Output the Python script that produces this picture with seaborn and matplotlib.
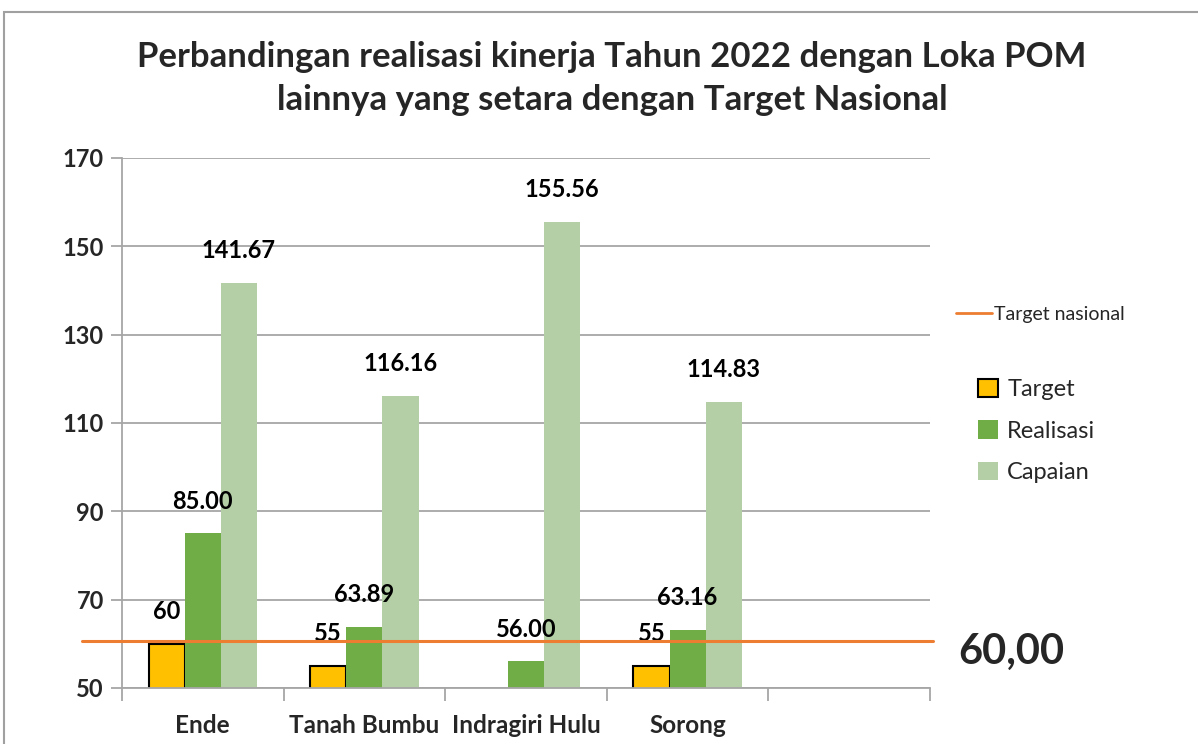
import matplotlib
matplotlib.use("Agg")
import matplotlib.pyplot as plt
import seaborn as sns
import pandas as pd
import numpy as np
from matplotlib.patches import Rectangle, Patch
from matplotlib.lines import Line2D

# ---- data ----
categories = ["Ende", "Tanah Bumbu", "Indragiri Hulu", "Sorong"]
series_names = ["Target", "Realisasi", "Capaian"]
target = [60, 55, np.nan, 55]
realisasi = [85.00, 63.89, 56.00, 63.16]
capaian = [141.67, 116.16, 155.56, 114.83]
target_nasional = 60.6
target_nasional_label = "60,00"
yticks = [50, 70, 90, 110, 130, 150, 170]
title = "Perbandingan realisasi kinerja Tahun 2022 dengan Loka POM\nlainnya yang setara dengan Target Nasional"

colors = {"Target": "#FFC000", "Realisasi": "#70AD47", "Capaian": "#B4CFA6"}

rows = []
for s, vals in zip(series_names, [target, realisasi, capaian]):
    for c, v in zip(categories, vals):
        rows.append({"Lokasi": c, "Seri": s, "Nilai": v})
df = pd.DataFrame(rows).dropna()

sns.set_theme(style="white")
plt.rcParams["font.family"] = ["Lato", "DejaVu Sans"]

fig = plt.figure(figsize=(11.98, 7.44), dpi=100)
ax = fig.add_axes([0.1018, 0.0753, 0.6745, 0.7124])

sns.barplot(data=df, x="Lokasi", y="Nilai", hue="Seri", order=categories,
            hue_order=series_names, palette=colors, width=0.67, gap=0,
            saturation=1, errorbar=None, ax=ax, legend=False)

# outline for target bars and value labels
for cont, s in zip(ax.containers, series_names):
    for p in cont.patches:
        h = p.get_height()
        if np.isnan(h) or h == 0:
            continue
        if s == "Target":
            p.set_edgecolor("black")
            p.set_linewidth(1.5)
            txt = f"{h:.0f}"
        else:
            p.set_edgecolor("none")
            txt = f"{h:.2f}"
        ax.annotate(txt, (p.get_x() + p.get_width() / 2, h), xytext=(0, 15),
                    textcoords="offset points", ha="center", va="bottom",
                    fontsize=17, fontweight="bold", color="black")

ax.set_xlim(-0.5, 4.5)
ax.set_ylim(50, 170)
ax.set_yticks(yticks)
ax.set_yticklabels([str(v) for v in yticks], fontsize=17, fontweight="bold")
ax.set_xticks(range(len(categories)))
ax.set_xticklabels(categories, fontsize=17.5, fontweight="bold")
ax.set_xticks(np.arange(-0.5, 4.51, 1), minor=True)
ax.tick_params(axis="x", which="major", length=0, pad=19)
ax.tick_params(axis="x", which="minor", length=9, width=1.3, color="#A6A6A6", direction="out", bottom=True)
ax.tick_params(axis="y", length=8, width=1.3, color="#A6A6A6", direction="out", left=True, pad=5)
ax.set_xlabel("")
ax.set_ylabel("")
ax.yaxis.grid(True, color="#A6A6A6", linewidth=1.3)
ax.set_axisbelow(True)
for side in ["top", "right"]:
    ax.spines[side].set_visible(False)
for side in ["left", "bottom"]:
    ax.spines[side].set_color("#A6A6A6")
    ax.spines[side].set_linewidth(1.3)

# national target line (extends slightly past the plot area)
ax.plot([-0.75, 4.52], [target_nasional, target_nasional], color="#ED7D31",
        linewidth=2.2, clip_on=False, zorder=5)
fig.text(0.80, 0.124, target_nasional_label, fontsize=30, fontweight="bold",
         ha="left", va="center")

fig.text(0.511, 0.894, title, fontsize=25, fontweight="bold",
         linespacing=1.42, ha="center", va="center")

# legends
leg1 = fig.legend(handles=[Line2D([0], [0], color="#ED7D31", linewidth=2)],
                  labels=["Target nasional"], loc="center left",
                  bbox_to_anchor=(0.783, 0.577), frameon=False, fontsize=14,
                  handlelength=1.9, handletextpad=0.1)
handles = [Patch(facecolor=colors["Target"], edgecolor="black", linewidth=1.5),
           Patch(facecolor=colors["Realisasi"], edgecolor="none"),
           Patch(facecolor=colors["Capaian"], edgecolor="none")]
leg2 = fig.legend(handles=handles, labels=series_names, loc="center left",
                  bbox_to_anchor=(0.799, 0.4207), frameon=False, fontsize=17,
                  handlelength=0.82, handleheight=0.82, handletextpad=0.4,
                  labelspacing=0.85)

# outer frame
fig.patches.append(Rectangle((0.0035, -0.1), 1.2, 1.084, transform=fig.transFigure,
                             fill=False, edgecolor="#A0A0A0", linewidth=1.5))

fig.savefig("out.png", dpi=100)
